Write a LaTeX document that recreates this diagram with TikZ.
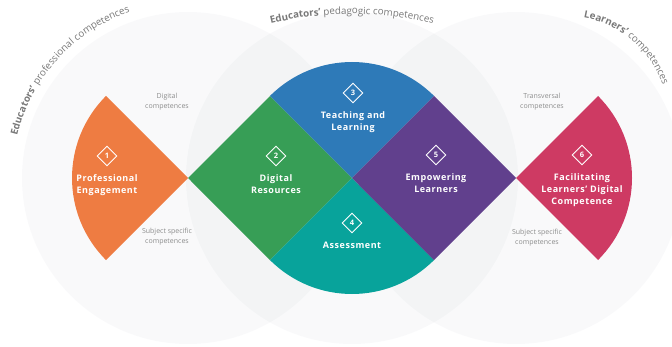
\documentclass[tikz,border=0pt]{standalone}
\usepackage{fontspec}
\setmainfont{Open Sans}
\newfontfamily\lblfont{Open Sans}[LetterSpace=6]
\newfontfamily\arcwide{Open Sans}[LetterSpace=4]
\usetikzlibrary{positioning,shapes.geometric,decorations.text}

\definecolor{areaOrange}{RGB}{238,124,66}
\definecolor{areaGreen}{RGB}{55,158,86}
\definecolor{areaBlue}{RGB}{46,122,184}
\definecolor{areaTeal}{RGB}{8,163,155}
\definecolor{areaPurple}{RGB}{97,64,141}
\definecolor{areaRed}{RGB}{206,58,99}
\definecolor{ringTint}{RGB}{40,50,80}
\definecolor{noteGrey}{RGB}{140,140,140}
\definecolor{arcGrey}{RGB}{120,120,120}
\newcommand\arcfont{\fontsize{9.8}{11}\selectfont}

\begin{document}
\begin{tikzpicture}[x=1pt,y=1pt,
  ring/.style={fill=ringTint,fill opacity=0.028},
  icon/.style={diamond,aspect=1,draw=white,line width=0.9pt,minimum size=20pt,inner sep=0pt,text=white,font=\fontsize{7.5}{8}\selectfont\bfseries},
  lbl/.style={text=white,align=center,inner sep=0pt,font=\lblfont\fontsize{9}{12}\selectfont\bfseries},
  note/.style={text=noteGrey,align=center,inner sep=0pt,font=\fontsize{7}{10}\selectfont}]
  \useasboundingbox (0,0) rectangle (672,346);
  \coordinate (L) at (188,168);
  \coordinate (M) at (352,168);
  \coordinate (R) at (516,168);

  % three competence circles
  \foreach \c in {L,M,R}{\fill[ring] (\c) circle (166);}

  % the six areas
  \fill[areaOrange] (L) -- ++(135:116) arc[start angle=135,end angle=225,radius=116] -- cycle;
  \fill[areaGreen] (L) -- ++(45:116) -- (M) -- ++(225:116) -- cycle;
  \fill[areaBlue] (M) -- ++(45:116) arc[start angle=45,end angle=135,radius=116] -- cycle;
  \fill[areaTeal] (M) -- ++(225:116) arc[start angle=225,end angle=315,radius=116] -- cycle;
  \fill[areaPurple] (M) -- ++(45:116) -- (R) -- ++(225:116) -- cycle;
  \fill[areaRed] (R) -- ++(-45:116) arc[start angle=-45,end angle=45,radius=116] -- cycle;

  \foreach \i/\p/\txt in {1/{107,190}/{Professional\\Engagement},
                          2/{276,190}/{Digital\\Resources},
                          3/{353,253}/{Teaching and\\Learning},
                          4/{352,123}/{Assessment},
                          5/{436,191}/{Empowering\\Learners},
                          6/{582,191}/{Facilitating\\Learners’ Digital\\Competence}}{
    \node[icon] (n\i) at (\p) {\i};
    \node[lbl,below=8pt of n\i] (t\i) {\txt};
  }

  \node[note] (dc) at (167,244) {Digital\\competences};
  \node[note] (ssl) at (167,109) {Subject specific\\competences};
  \node[note] (tc) at (542,244) {Transversal\\competences};
  \node[note] (ssr) at (537,108) {Subject specific\\competences};

  % circle titles
  \path[decorate,decoration={text along path,text color=arcGrey,text align=left,
    text={|\arcwide\arcfont\bfseries|Educators’|\arcwide\arcfont| professional competences}}]
    (L) ++(166:176) arc[start angle=166,end angle=96,radius=176];
  \path[decorate,decoration={text along path,text color=arcGrey,text align=center,
    text={|\arcfont\bfseries|Educators’|\arcfont| pedagogic competences}}]
    (352,-15) ++(105:347) arc[start angle=105,end angle=75,radius=347];
  \path[decorate,decoration={text along path,text color=arcGrey,text align=left,
    text={|\arcfont\bfseries|Learners’|\arcfont| competences}}]
    (566,228) ++(80:102) arc[start angle=80,end angle=0,radius=102];
\end{tikzpicture}
\end{document}
